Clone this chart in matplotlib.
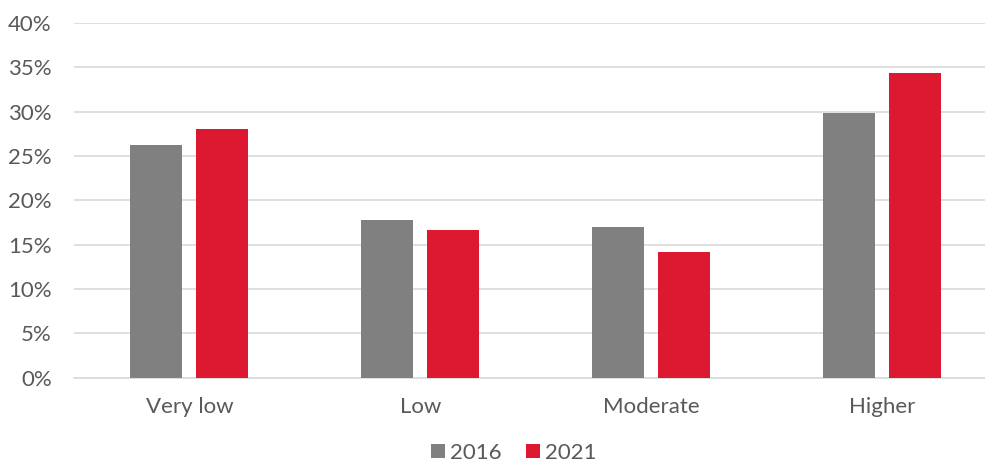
import matplotlib.pyplot as plt
import numpy as np

# Chart data
categories = ["Very low", "Low", "Moderate", "Higher"]
years = ["2016", "2021"]
values_2016 = [26.2, 17.8, 17.0, 29.9]
values_2021 = [28.1, 16.7, 14.2, 34.4]

plt.rcParams['font.family'] = ['Lato', 'DejaVu Sans']

fig = plt.figure(figsize=(9.85, 4.61), dpi=100)
ax = fig.add_axes([0.075, 0.181, 0.938, 0.769])

x = np.arange(len(categories))
width = 0.225
offset = 0.143
ax.bar(x - offset, values_2016, width, color="#808080", label=years[0], zorder=3)
ax.bar(x + offset, values_2021, width, color="#DC1931", label=years[1], zorder=3)

ax.set_xlim(-0.5, len(categories) - 0.5)
ax.set_ylim(0, 40)
ax.set_yticks(range(0, 41, 5))
ax.set_yticklabels([f"{v}%" for v in range(0, 41, 5)])
ax.set_xticks(x)
ax.set_xticklabels(categories)
ax.yaxis.grid(True, color="#d9d9d9", linewidth=1.2, zorder=0)
ax.tick_params(axis="both", length=0, labelsize=16, labelcolor="#595959")
ax.tick_params(axis="y", pad=16)
ax.tick_params(axis="x", pad=14)
for side in ["top", "right", "left"]:
    ax.spines[side].set_visible(False)
ax.spines["bottom"].set_color("#d9d9d9")
ax.spines["bottom"].set_linewidth(1.2)

leg = fig.legend(loc="center", bbox_to_anchor=(0.522, 0.018), ncol=2, frameon=False,
                 fontsize=16, handlelength=0.6, handleheight=0.6, handletextpad=0.25,
                 columnspacing=1.1)
for t in leg.get_texts():
    t.set_color("#595959")

fig.savefig("out.png", dpi=100)
